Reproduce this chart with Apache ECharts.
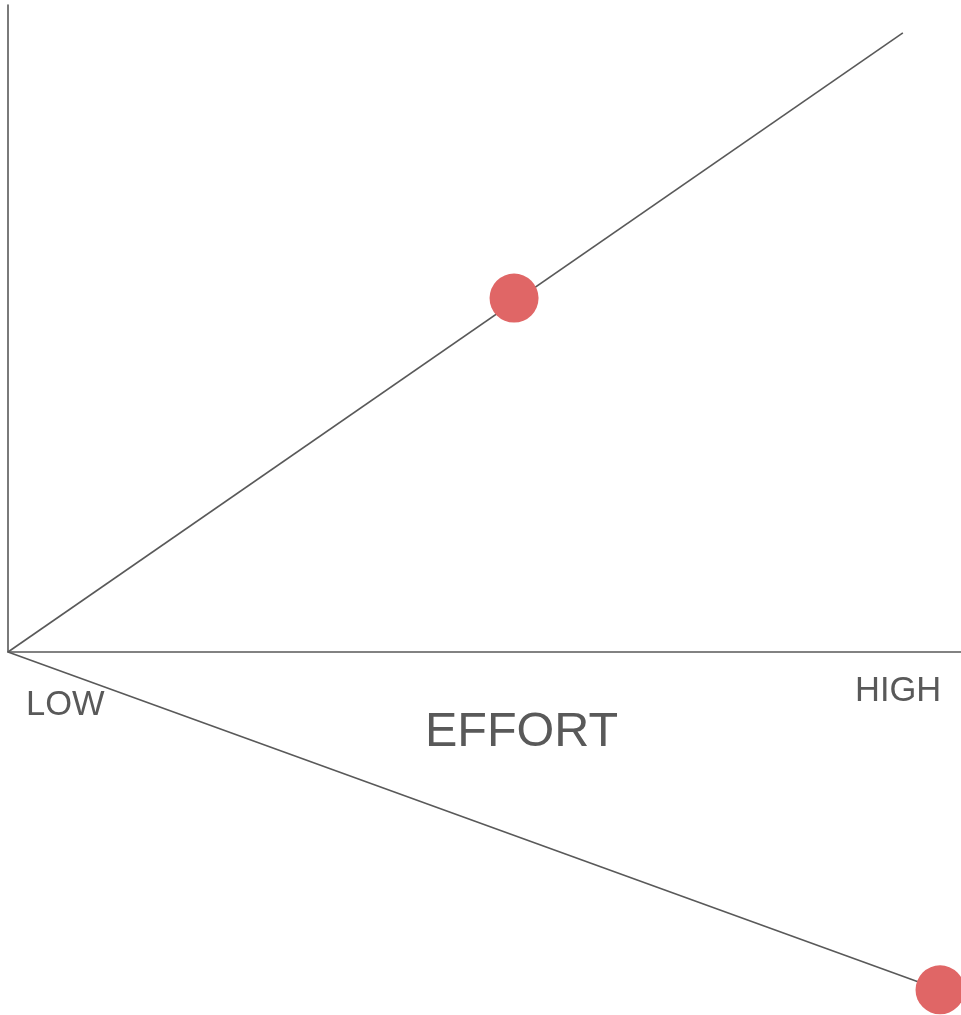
<!DOCTYPE html>
<html>
<head>
<meta charset="utf-8">
<script src="https://cdn.jsdelivr.net/npm/echarts@6/dist/echarts.min.js"></script>
<style>html,body{margin:0;padding:0;background:#fff}#c{width:961px;height:1015px}</style>
</head>
<body>
<div id="c"></div>
<script>
// Data
const xTickLabels = ['LOW', 'HIGH'];
const xAxisTitle = 'EFFORT';
const upperLine = [[0, 0], [93.9, 95.7]];
const upperPoint = [[53.1, 54.7]];
const lowerLine = [[0, 0], [97.8, -52.2]];
const lowerPoint = [[97.8, -52.2]];

const LINE = '#595959';
const DOT = '#e06666';
const FONT = '"Liberation Sans", Arial, sans-serif';

const chart = echarts.init(document.getElementById('c'), null, {renderer: 'canvas'});
chart.setOption({
  animation: false,
  backgroundColor: '#fff',
  grid: [
    {left: 8, right: 0, top: 5, height: 647},
    {left: 8, right: 0, top: 652, height: 363}
  ],
  xAxis: [
    {gridIndex: 0, type: 'value', min: 0, max: 100,
     axisLine: {show: true, onZero: true, lineStyle: {color: LINE, width: 1.6}},
     axisTick: {show: false}, axisLabel: {show: false}, splitLine: {show: false}},
    {gridIndex: 1, type: 'value', min: 0, max: 100, show: false}
  ],
  yAxis: [
    {gridIndex: 0, type: 'value', min: 0, max: 100,
     axisLine: {show: true, lineStyle: {color: LINE, width: 1.6}},
     axisTick: {show: false}, axisLabel: {show: false}, splitLine: {show: false}},
    {gridIndex: 1, type: 'value', min: -56.1, max: 0, show: false}
  ],
  series: [
    {type: 'line', xAxisIndex: 0, yAxisIndex: 0, data: upperLine, showSymbol: false,
     lineStyle: {color: LINE, width: 1.6}, clip: false, z: 2},
    {type: 'scatter', xAxisIndex: 0, yAxisIndex: 0, data: upperPoint, symbolSize: 49,
     itemStyle: {color: DOT, opacity: 1}, z: 3},
    {type: 'line', xAxisIndex: 1, yAxisIndex: 1, data: lowerLine, showSymbol: false,
     lineStyle: {color: LINE, width: 1.6}, clip: false, z: 2},
    {type: 'scatter', xAxisIndex: 1, yAxisIndex: 1, data: lowerPoint, symbolSize: 49,
     itemStyle: {color: DOT, opacity: 1}, clip: false, z: 3}
  ],
  graphic: [
    {type: 'text', left: 26, top: 688, style: {text: xTickLabels[0], fill: LINE, font: '34.5px ' + FONT}},
    {type: 'text', left: 855, top: 674, style: {text: xTickLabels[1], fill: LINE, font: '34.5px ' + FONT}},
    {type: 'text', left: 425, top: 708, style: {text: xAxisTitle, fill: LINE, font: '48.5px ' + FONT}}
  ]
});
</script>
</body>
</html>
